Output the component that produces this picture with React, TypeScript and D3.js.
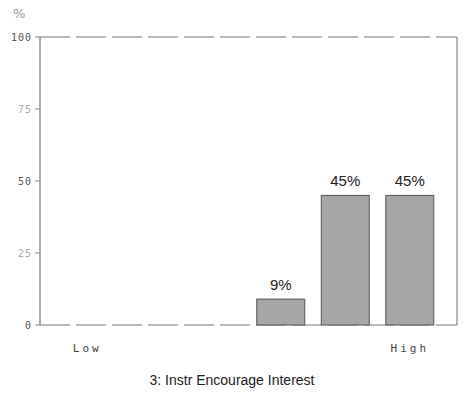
import React from "react";
import * as d3 from "d3";

const categories = ["1", "2", "3", "4", "5", "6"];
const values = [0, 0, 0, 9, 45, 45];
const yTicks = [0, 25, 50, 75, 100];
const endLabels = ["Low", "High"];
const title = "3: Instr Encourage Interest";

export default function App() {
  const W = 465, H = 403;
  const left = 40, right = 457, top = 37, bottom = 325;
  const x = d3.scaleBand<string>().domain(categories).range([left, right]).paddingInner(0.256).paddingOuter(0.36);
  const y = d3.scaleLinear().domain([0, 100]).range([bottom, top]);
  const axisColor = "#555";
  return (
    <svg width={W} height={H} style={{ position: "absolute", left: 0, top: 0, background: "#fff" }}>
      <text x={13} y={18} fontFamily="DejaVu Sans" fontSize={13} fill="#999">%</text>
      {/* frame */}
      <line x1={left} y1={top} x2={right} y2={top} stroke="#777" strokeWidth={1} strokeDasharray="30 6" />
      <line x1={left} y1={top} x2={left} y2={bottom} stroke={axisColor} strokeWidth={1} />
      <line x1={right} y1={top} x2={right} y2={bottom} stroke="#777" strokeWidth={1} />
      <line x1={left} y1={bottom} x2={right} y2={bottom} stroke="#777" strokeWidth={1} strokeDasharray="30 6" />
      {yTicks.map((t) => (
        <g key={t}>
          <line x1={left - 5} x2={left} y1={y(t)} y2={y(t)} stroke="#888" />
          <text x={left - 8} y={y(t) + 3.5} textAnchor="end" fontFamily="DejaVu Sans Mono" fontSize={10} fill={t === 25 || t === 75 ? "#aaa" : "#555"} letterSpacing={1}>
            {t}
          </text>
        </g>
      ))}
      {categories.map((c, i) =>
        values[i] > 0 ? (
          <g key={c}>
            <rect x={x(c)!} y={y(values[i])} width={x.bandwidth()} height={bottom - y(values[i])} fill="#a6a6a6" stroke="#555" strokeWidth={1} />
            <text x={x(c)! + x.bandwidth() / 2} y={y(values[i]) - 9} textAnchor="middle" fontFamily="Liberation Sans" fontSize={15} fill="#222">
              {values[i]}%
            </text>
          </g>
        ) : null
      )}
      <text x={x(categories[0])! + x.bandwidth() / 2} y={352} textAnchor="middle" fontFamily="DejaVu Sans Mono" fontSize={11} fill="#444" letterSpacing={3}>{endLabels[0]}</text>
      <text x={x(categories[5])! + x.bandwidth() / 2} y={352} textAnchor="middle" fontFamily="DejaVu Sans Mono" fontSize={11} fill="#444" letterSpacing={3}>{endLabels[1]}</text>
      <text x={232} y={385} textAnchor="middle" fontFamily="Liberation Sans" fontSize={14} fill="#222">{title}</text>
    </svg>
  );
}
